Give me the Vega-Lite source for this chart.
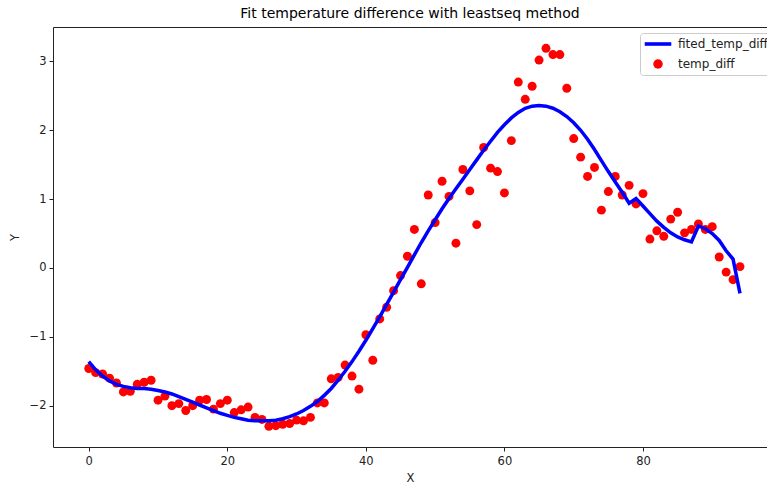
{
  "$schema": "https://vega.github.io/schema/vega-lite/v6.json",
  "width": 714,
  "height": 420,
  "autosize": {"type": "none"},
  "padding": {"left": 53, "top": 27, "right": 0, "bottom": 37},
  "background": "white",
  "title": {"text": "Fit temperature difference with leastseq method", "font": "DejaVu Sans", "fontSize": 14, "fontWeight": "normal", "color": "black", "offset": 6},
  "config": {
    "view": {"stroke": null},
    "axis": {"grid": false, "domainColor": "#222222", "domainWidth": 1, "tickColor": "#222222", "tickSize": 4, "labelFont": "DejaVu Sans", "labelFontSize": 11.5, "labelColor": "#222222", "titleFont": "DejaVu Sans", "titleFontSize": 11.5, "titleFontWeight": "normal", "titleColor": "#222222"}
  },
  "datasets": {
    "d": [
      {"x": 0, "temp_diff": -1.46, "fit": -1.36},
      {"x": 1, "temp_diff": -1.52, "fit": -1.48},
      {"x": 2, "temp_diff": -1.54, "fit": -1.57},
      {"x": 3, "temp_diff": -1.6, "fit": -1.64},
      {"x": 4, "temp_diff": -1.67, "fit": -1.69},
      {"x": 5, "temp_diff": -1.8, "fit": -1.72},
      {"x": 6, "temp_diff": -1.79, "fit": -1.74},
      {"x": 7, "temp_diff": -1.69, "fit": -1.75},
      {"x": 8, "temp_diff": -1.66, "fit": -1.75},
      {"x": 9, "temp_diff": -1.63, "fit": -1.76},
      {"x": 10, "temp_diff": -1.92, "fit": -1.78},
      {"x": 11, "temp_diff": -1.86, "fit": -1.8},
      {"x": 12, "temp_diff": -2.0, "fit": -1.83},
      {"x": 13, "temp_diff": -1.97, "fit": -1.87},
      {"x": 14, "temp_diff": -2.07, "fit": -1.91},
      {"x": 15, "temp_diff": -2.0, "fit": -1.95},
      {"x": 16, "temp_diff": -1.92, "fit": -1.99},
      {"x": 17, "temp_diff": -1.91, "fit": -2.03},
      {"x": 18, "temp_diff": -2.05, "fit": -2.07},
      {"x": 19, "temp_diff": -1.97, "fit": -2.11},
      {"x": 20, "temp_diff": -1.92, "fit": -2.14},
      {"x": 21, "temp_diff": -2.1, "fit": -2.17},
      {"x": 22, "temp_diff": -2.06, "fit": -2.19},
      {"x": 23, "temp_diff": -2.02, "fit": -2.21},
      {"x": 24, "temp_diff": -2.17, "fit": -2.22},
      {"x": 25, "temp_diff": -2.2, "fit": -2.22},
      {"x": 26, "temp_diff": -2.3, "fit": -2.22},
      {"x": 27, "temp_diff": -2.29, "fit": -2.21},
      {"x": 28, "temp_diff": -2.27, "fit": -2.19},
      {"x": 29, "temp_diff": -2.26, "fit": -2.16},
      {"x": 30, "temp_diff": -2.21, "fit": -2.12},
      {"x": 31, "temp_diff": -2.22, "fit": -2.07},
      {"x": 32, "temp_diff": -2.17, "fit": -2.01},
      {"x": 33, "temp_diff": -1.96, "fit": -1.94},
      {"x": 34, "temp_diff": -1.96, "fit": -1.85},
      {"x": 35, "temp_diff": -1.61, "fit": -1.75},
      {"x": 36, "temp_diff": -1.59, "fit": -1.63},
      {"x": 37, "temp_diff": -1.41, "fit": -1.5},
      {"x": 38, "temp_diff": -1.57, "fit": -1.36},
      {"x": 39, "temp_diff": -1.76, "fit": -1.21},
      {"x": 40, "temp_diff": -0.97, "fit": -1.05},
      {"x": 41, "temp_diff": -1.34, "fit": -0.88},
      {"x": 42, "temp_diff": -0.74, "fit": -0.71},
      {"x": 43, "temp_diff": -0.57, "fit": -0.53},
      {"x": 44, "temp_diff": -0.33, "fit": -0.35},
      {"x": 45, "temp_diff": -0.11, "fit": -0.17},
      {"x": 46, "temp_diff": 0.17, "fit": 0.01},
      {"x": 47, "temp_diff": 0.56, "fit": 0.19},
      {"x": 48, "temp_diff": -0.23, "fit": 0.37},
      {"x": 49, "temp_diff": 1.06, "fit": 0.54},
      {"x": 50, "temp_diff": 0.66, "fit": 0.7},
      {"x": 51, "temp_diff": 1.26, "fit": 0.86},
      {"x": 52, "temp_diff": 1.04, "fit": 1.01},
      {"x": 53, "temp_diff": 0.36, "fit": 1.15},
      {"x": 54, "temp_diff": 1.43, "fit": 1.29},
      {"x": 55, "temp_diff": 1.12, "fit": 1.43},
      {"x": 56, "temp_diff": 0.63, "fit": 1.57},
      {"x": 57, "temp_diff": 1.75, "fit": 1.71},
      {"x": 58, "temp_diff": 1.45, "fit": 1.84},
      {"x": 59, "temp_diff": 1.4, "fit": 1.97},
      {"x": 60, "temp_diff": 1.09, "fit": 2.08},
      {"x": 61, "temp_diff": 1.85, "fit": 2.18},
      {"x": 62, "temp_diff": 2.7, "fit": 2.26},
      {"x": 63, "temp_diff": 2.45, "fit": 2.32},
      {"x": 64, "temp_diff": 2.64, "fit": 2.35},
      {"x": 65, "temp_diff": 3.02, "fit": 2.36},
      {"x": 66, "temp_diff": 3.19, "fit": 2.35},
      {"x": 67, "temp_diff": 3.1, "fit": 2.32},
      {"x": 68, "temp_diff": 3.1, "fit": 2.27},
      {"x": 69, "temp_diff": 2.61, "fit": 2.2},
      {"x": 70, "temp_diff": 1.88, "fit": 2.11},
      {"x": 71, "temp_diff": 1.61, "fit": 2.0},
      {"x": 72, "temp_diff": 1.33, "fit": 1.87},
      {"x": 73, "temp_diff": 1.46, "fit": 1.72},
      {"x": 74, "temp_diff": 0.84, "fit": 1.56},
      {"x": 75, "temp_diff": 1.11, "fit": 1.4},
      {"x": 76, "temp_diff": 1.33, "fit": 1.25},
      {"x": 77, "temp_diff": 1.06, "fit": 1.1},
      {"x": 78, "temp_diff": 1.2, "fit": 0.94},
      {"x": 79, "temp_diff": 0.93, "fit": 1.01},
      {"x": 80, "temp_diff": 1.08, "fit": 0.9},
      {"x": 81, "temp_diff": 0.42, "fit": 0.79},
      {"x": 82, "temp_diff": 0.54, "fit": 0.68},
      {"x": 83, "temp_diff": 0.46, "fit": 0.59},
      {"x": 84, "temp_diff": 0.71, "fit": 0.51},
      {"x": 85, "temp_diff": 0.81, "fit": 0.45},
      {"x": 86, "temp_diff": 0.51, "fit": 0.41},
      {"x": 87, "temp_diff": 0.56, "fit": 0.38},
      {"x": 88, "temp_diff": 0.64, "fit": 0.61},
      {"x": 89, "temp_diff": 0.56, "fit": 0.57},
      {"x": 90, "temp_diff": 0.6, "fit": 0.5},
      {"x": 91, "temp_diff": 0.16, "fit": 0.4},
      {"x": 92, "temp_diff": -0.06, "fit": 0.25},
      {"x": 93, "temp_diff": -0.17, "fit": 0.13},
      {"x": 94, "temp_diff": 0.02, "fit": -0.37}
    ]
  },
  "data": {"name": "d"},
  "layer": [
    {
      "mark": {"type": "point", "filled": true, "size": 80, "opacity": 1, "strokeWidth": 0},
      "encoding": {
        "x": {"field": "x", "type": "quantitative", "scale": {"domain": [-5.16, 97.9], "nice": false, "zero": false},
              "axis": {"orient": "bottom", "values": [0, 20, 40, 60, 80], "title": "X", "labelPadding": 4, "titlePadding": 6}},
        "y": {"field": "temp_diff", "type": "quantitative", "scale": {"domain": [-2.6, 3.5], "nice": false, "zero": false},
              "axis": {"values": [-2, -1, 0, 1, 2, 3], "format": "d", "title": "Y", "labelPadding": 3, "titlePadding": 9}},
        "color": {"datum": "temp_diff", "type": "nominal",
                  "scale": {"domain": ["fited_temp_diff", "temp_diff"], "range": ["#0000ff", "#ff0000"]},
                  "legend": {"title": null, "orient": "none", "legendX": 587, "legendY": 6,
                             "padding": 5, "strokeColor": "#cccccc", "fillColor": "white", "cornerRadius": 3,
                             "labelFont": "DejaVu Sans", "labelFontSize": 12, "labelColor": "#222222",
                             "symbolSize": 90, "labelOffset": 14, "rowPadding": 6, "symbolOffset": 7,
                             "symbolType": {"expr": "datum.value === 'temp_diff' ? 'circle' : 'M-2.8,0H2.8'"},
                             "symbolStrokeWidth": {"expr": "datum.value === 'temp_diff' ? 0 : 3.6"},
                             "symbolStrokeColor": {"expr": "datum.value === 'temp_diff' ? '#ff0000' : '#0000ff'"},
                             "symbolOpacity": 1}}
      }
    },
    {
      "mark": {"type": "line", "strokeWidth": 3.5},
      "encoding": {
        "x": {"field": "x", "type": "quantitative", "axis": {"orient": "top", "labels": false, "ticks": false, "title": null}},
        "y": {"field": "fit", "type": "quantitative"},
        "color": {"datum": "fited_temp_diff", "type": "nominal"}
      }
    }
  ],
  "resolve": {"axis": {"x": "independent"}}
}
